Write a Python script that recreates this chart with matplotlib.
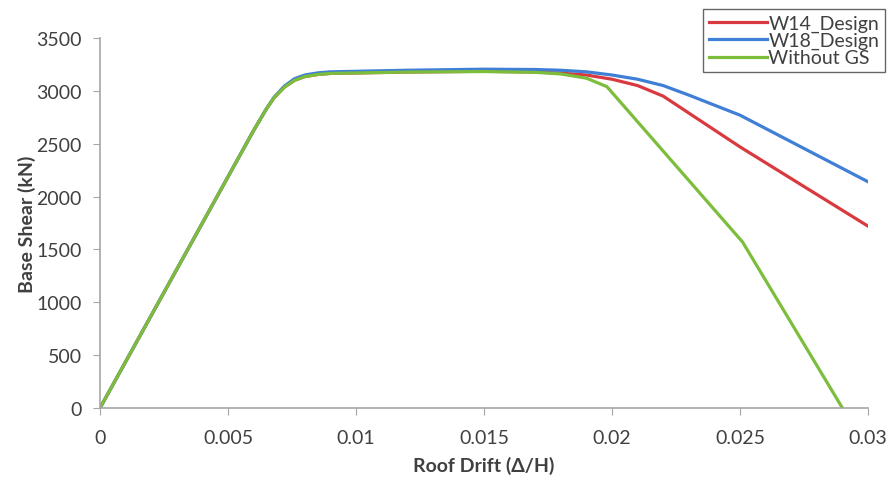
import matplotlib.pyplot as plt

# pushover curves: roof drift vs base shear
drift_none = [0, 0.006, 0.0065, 0.0068, 0.0072, 0.0076, 0.008, 0.0085, 0.009, 0.012,
              0.015, 0.017, 0.018, 0.019, 0.0198, 0.0251, 0.029]
shear_none = [0, 2625, 2830, 2935, 3035, 3100, 3135, 3155, 3165, 3178,
              3183, 3175, 3160, 3120, 3040, 1570, 0]

drift_w14 = [0, 0.006, 0.0065, 0.0068, 0.0072, 0.0076, 0.008, 0.0085, 0.009, 0.012,
             0.015, 0.017, 0.018, 0.019, 0.020, 0.021, 0.022, 0.025, 0.030]
shear_w14 = [0, 2625, 2830, 2935, 3035, 3100, 3135, 3155, 3165, 3178,
             3185, 3178, 3168, 3150, 3110, 3050, 2950, 2470, 1720]

drift_w18 = [0, 0.006, 0.0065, 0.0068, 0.0072, 0.0076, 0.008, 0.0085, 0.009, 0.012,
             0.015, 0.017, 0.018, 0.019, 0.020, 0.021, 0.022, 0.023, 0.025, 0.030]
shear_w18 = [0, 2625, 2830, 2940, 3045, 3115, 3150, 3170, 3180, 3195,
             3205, 3202, 3195, 3180, 3150, 3110, 3050, 2960, 2770, 2140]

xticks = [0, 0.005, 0.01, 0.015, 0.02, 0.025, 0.03]
xticklabels = ['0', '0.005', '0.01', '0.015', '0.02', '0.025', '0.03']
yticks = list(range(0, 3501, 500))

plt.rcParams['font.family'] = ['Lato', 'DejaVu Sans']
txt = '#404040'

fig = plt.figure(figsize=(8.89, 4.81), dpi=100)
ax = fig.add_axes([0.1125, 0.1497, 0.8639, 0.7692])

ax.plot(drift_w14, shear_w14, color='#d93a3f', lw=2.3, label='W14_Design')
ax.plot(drift_w18, shear_w18, color='#3f7fd6', lw=2.3, label='W18_Design')
ax.plot(drift_none, shear_none, color='#7cbd3c', lw=2.3, label='Without GS')

ax.set_xlim(0, 0.03)
ax.set_ylim(0, 3500)
ax.set_xticks(xticks)
ax.set_xticklabels(xticklabels)
ax.set_yticks(yticks)

for side in ['top', 'right']:
    ax.spines[side].set_visible(False)
for side in ['left', 'bottom']:
    ax.spines[side].set_color('#a6a6a6')
    ax.spines[side].set_linewidth(1.2)
ax.tick_params(direction='out', length=5, color='#a6a6a6', labelcolor=txt, labelsize=14)
ax.tick_params(axis='x', pad=10)
ax.tick_params(axis='y', pad=8)

ax.set_xlabel('Roof Drift (Δ/H)', fontsize=14, fontweight='bold', color=txt, labelpad=7)
ax.set_ylabel('Base Shear (kN)', fontsize=14, fontweight='bold', color=txt, labelpad=0)

leg = fig.legend(loc='upper right', bbox_to_anchor=(0.9955, 0.979), fontsize=14,
                 frameon=True, fancybox=False, handlelength=3.0, handletextpad=0.05,
                 labelspacing=0.0, borderpad=0.3, borderaxespad=0)
leg.get_frame().set_edgecolor('#404040')
leg.get_frame().set_linewidth(1.0)
for t in leg.get_texts():
    t.set_color(txt)

plt.savefig('out.png', dpi=100)
plt.close()
